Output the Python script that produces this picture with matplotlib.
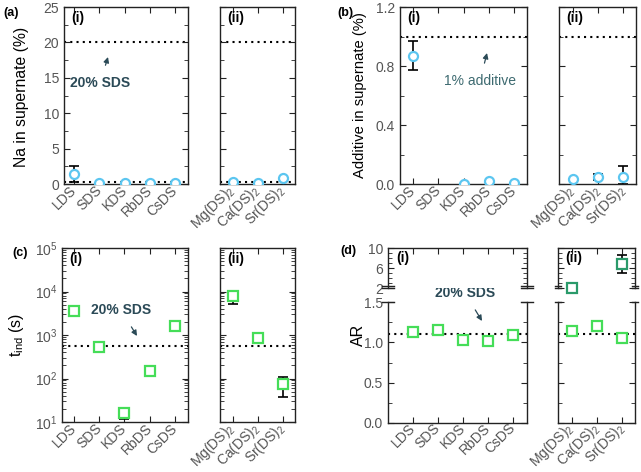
import numpy as np
import matplotlib
matplotlib.use('Agg')
import matplotlib.pyplot as plt
from matplotlib.ticker import MultipleLocator, LogLocator, NullFormatter, FixedLocator

plt.rcParams['font.family'] = ['Liberation Sans', 'DejaVu Sans']
plt.rcParams['mathtext.default'] = 'regular'

# categories
cat1 = ['LDS', 'SDS', 'KDS', 'RbDS', 'CsDS']
cat2 = ['Mg(DS)$_2$', 'Ca(DS)$_2$', 'Sr(DS)$_2$']

# (a) Na in supernate (%)
na1 = [1.4, 0.1, 0.1, 0.15, 0.15]
na1_err = [[1.1, 0, 0, 0, 0], [1.1, 0, 0, 0, 0]]
na2 = [0.3, 0.15, 0.8]
na_ref = 20
na_base = 0.3

# (b) additive in supernate (%)
add1 = [0.87, np.nan, 0.0, 0.02, 0.01]
add1_err = [[0.1, 0, 0, 0, 0], [0.1, 0, 0, 0, 0]]
add2 = [0.035, 0.045, 0.045]
add2_err = [[0, 0.02, 0.045], [0, 0.02, 0.075]]
add_ref = 1.0

# (c) induction time (s)
tind1 = [3600, 520, 16, 145, 1650]
tind1_err = [[0, 0, 4, 0, 0], [0, 0, 5, 0, 0]]
tind2 = [7800, 850, 75]
tind2_err = [[2600, 0, 37], [2700, 0, 35]]
tind_ref = 570

# (d) aspect ratio
ar1 = [1.13, 1.15, 1.03, 1.02, 1.09]
ar2 = [1.14, 1.2, 1.05]
ar2_hi = [2.0, np.nan, 6.8]
ar2_hi_err = [[0, 0, 1.8], [0, 0, 1.9]]
ar_ref = 1.1

W, H = 641, 472
BLUE = '#5cc6f0'
GREEN = '#45dd58'
NOTE = '#2b4a57'
TICKC = '#555555'

fig = plt.figure(figsize=(W / 100, H / 100), dpi=100)


def box(x0, x1, y0, y1):
    return [x0 / W, 1 - y1 / H, (x1 - x0) / W, (y1 - y0) / H]


def style(ax, labels, xlim, show_y=True):
    ax.set_xlim(*xlim)
    ax.set_xticks(range(1, len(labels) + 1))
    ax.set_xticklabels(labels, rotation=45, ha='right', va='center',
                       rotation_mode='anchor')
    ax.tick_params(which='both', direction='in', top=True, right=True,
                   colors='#222222', labelcolor=TICKC, labelsize=10)
    ax.tick_params(which='major', length=4)
    ax.tick_params(which='minor', length=3)
    ax.tick_params(axis='x', pad=3)
    if not show_y:
        ax.tick_params(axis='y', labelleft=False)
    for s in ax.spines.values():
        s.set_color('#222222')
        s.set_linewidth(1.0)


def dotted(ax, y):
    ax.axhline(y, color='black', ls=(0, (1, 2)), lw=1.5, zorder=1)


def pts(ax, x, y, err, marker, color, ms=6.5, mec=None):
    if err is not None:
        ax.errorbar(x, y, yerr=err, fmt='none', ecolor='black', elinewidth=1.2,
                    capsize=3.5, capthick=1.2, zorder=2)
    ax.plot(x, y, marker, ls='none', mfc='white', mec=mec or color, ms=ms, mew=1.6,
            zorder=3)


def note(ax, text, head, tail, bold=True, color=NOTE):
    # head / tail given in pixels from the top-left corner
    ax.annotate(text, xy=(head[0], H - head[1]), xycoords='figure pixels',
                xytext=(tail[0], H - tail[1]), textcoords='figure pixels',
                ha='center', va='center', fontsize=10,
                fontweight='bold' if bold else 'normal', color=color,
                arrowprops=dict(arrowstyle='-|>', color=NOTE, lw=0.9,
                                mutation_scale=8, shrinkA=6, shrinkB=0))


x1 = np.arange(1, 6)
x2 = np.arange(1, 4)

# ---------- (a) ----------
a1 = fig.add_axes(box(64, 188, 7, 184))
a2 = fig.add_axes(box(220, 295, 7, 184))
for ax, lab, xl, yl in [(a1, cat1, (0.6, 5.5), True), (a2, cat2, (0.5, 3.5), False)]:
    ax.set_ylim(0, 25)
    ax.yaxis.set_major_locator(MultipleLocator(5))
    ax.yaxis.set_minor_locator(MultipleLocator(2.5))
    style(ax, lab, xl, yl)
    dotted(ax, na_ref)
    dotted(ax, na_base)
pts(a1, x1, na1, na1_err, 'o', BLUE)
pts(a2, x2, na2, None, 'o', BLUE)
note(a1, '20% SDS', (108, 57), (100, 83))
fig.text(22 / W, 1 - 97 / H, 'Na in supernate (%)', rotation=90, ha='center',
         va='center', fontsize=11.3)

# ---------- (b) ----------
b1 = fig.add_axes(box(400, 527, 7, 184))
b2 = fig.add_axes(box(559, 636, 7, 184))
for ax, lab, xl, yl in [(b1, cat1, (0.48, 5.52), True), (b2, cat2, (0.45, 3.5), False)]:
    ax.set_ylim(0, 1.2)
    ax.yaxis.set_major_locator(FixedLocator([0.0, 0.4, 0.8, 1.2]))
    ax.yaxis.set_major_formatter(plt.FuncFormatter(lambda v, p: f'{v:.1f}'))
    ax.yaxis.set_minor_locator(MultipleLocator(0.2))
    style(ax, lab, xl, yl)
    dotted(ax, add_ref)
pts(b1, x1, add1, add1_err, 'o', BLUE)
pts(b2, x2, add2, add2_err, 'o', BLUE)
note(b1, '1% additive', (487, 53), (480, 81), bold=False, color='#3d6a70')
fig.text(360 / W, 1 - 95 / H, 'Additive in supernate (%)', rotation=90, ha='center',
         va='center', fontsize=10.6)

# ---------- (c) ----------
c1 = fig.add_axes(box(62, 188, 248, 422))
c2 = fig.add_axes(box(220, 295, 248, 422))
for ax, lab, xl, yl in [(c1, cat1, (0.52, 5.52), True), (c2, cat2, (0.5, 3.5), False)]:
    ax.set_yscale('log')
    ax.set_ylim(10, 1e5)
    ax.yaxis.set_major_locator(LogLocator(base=10, numticks=10))
    ax.yaxis.set_minor_locator(LogLocator(base=10, subs=np.arange(2, 10), numticks=10))
    ax.yaxis.set_minor_formatter(NullFormatter())
    style(ax, lab, xl, yl)
    dotted(ax, tind_ref)
pts(c1, x1, tind1, tind1_err, 's', GREEN)
pts(c2, x2, tind2, tind2_err, 's', GREEN)
note(c1, '20% SDS', (137, 336), (121, 310))
fig.text(17 / W, 1 - 335 / H, 't$_{ind}$ (s)', rotation=90, ha='center', va='center',
         fontsize=11.5)

# ---------- (d) ----------
d1 = fig.add_axes(box(388, 527, 302, 423))
d2 = fig.add_axes(box(558, 635, 302, 423))
d1u = fig.add_axes(box(388, 527, 248, 288))
d2u = fig.add_axes(box(558, 635, 248, 288))
for ax, lab, xl, yl in [(d1, cat1, (0.0, 5.55), True), (d2, cat2, (0.45, 3.5), False)]:
    ax.set_ylim(0, 1.5)
    ax.yaxis.set_major_locator(MultipleLocator(0.5))
    ax.yaxis.set_major_formatter(plt.FuncFormatter(lambda v, p: f'{v:.1f}'))
    ax.yaxis.set_minor_locator(MultipleLocator(0.25))
    style(ax, lab, xl, yl)
    ax.tick_params(axis='x', pad=2)
    ax.spines['top'].set_visible(False)
    ax.tick_params(axis='x', which='both', top=False)
    dotted(ax, ar_ref)
    for xs in (0, 1):
        ax.plot([xs - 0.04, xs + 0.04], [1, 1], transform=ax.transAxes, color='#222222',
                lw=1.0, clip_on=False)
for ax, n, xl, yl in [(d1u, 5, (0.0, 5.55), True), (d2u, 3, (0.45, 3.5), False)]:
    ax.set_ylim(2, 10)
    ax.yaxis.set_major_locator(FixedLocator([2, 6, 10]))
    ax.yaxis.set_minor_locator(FixedLocator([3, 4, 5, 7, 8, 9]))
    style(ax, [''] * n, xl, yl)
    ax.tick_params(axis='x', which='both', bottom=False, labelbottom=False)
    ax.spines['bottom'].set_visible(False)
    for xs in (0, 1):
        for yy in (0, 0.045):
            ax.plot([xs - 0.04, xs + 0.04], [yy, yy], transform=ax.transAxes,
                    color='#222222', lw=1.0, clip_on=False)
pts(d1, x1, ar1, None, 's', GREEN)
pts(d2, x2, ar2, None, 's', GREEN)
d2u.errorbar(x2, ar2_hi, yerr=ar2_hi_err, fmt='none', ecolor='black', elinewidth=1.2,
             capsize=3.5, capthick=1.2, zorder=2)
d2u.plot(x2, ar2_hi, 's', ls='none', mfc='white', mec='#2a9a6a', ms=6.5, mew=1.6,
         zorder=3, clip_on=False)
note(d1, '20% SDS', (482, 321), (465, 293))
fig.text(358 / W, 1 - 335 / H, 'AR', rotation=90, ha='center', va='center',
         fontsize=11.5)

# panel letters and sub-labels
for x, y, t in [(3, 13, '(a)'), (337, 13, '(b)'), (12, 253, '(c)'), (340, 251, '(d)')]:
    fig.text(x / W, 1 - y / H, t, fontsize=9, fontweight='bold', va='center')
for ax in (a1, b1, c1, d1u):
    ax.text(0.06, 0.975 if ax is not d1u else 0.92, '(i)', transform=ax.transAxes,
            fontsize=10, fontweight='bold', va='top')
for ax in (a2, b2, c2, d2u):
    ax.text(0.1, 0.975 if ax is not d2u else 0.92, '(ii)', transform=ax.transAxes,
            fontsize=10, fontweight='bold', va='top')

fig.savefig('out.png', dpi=100)
